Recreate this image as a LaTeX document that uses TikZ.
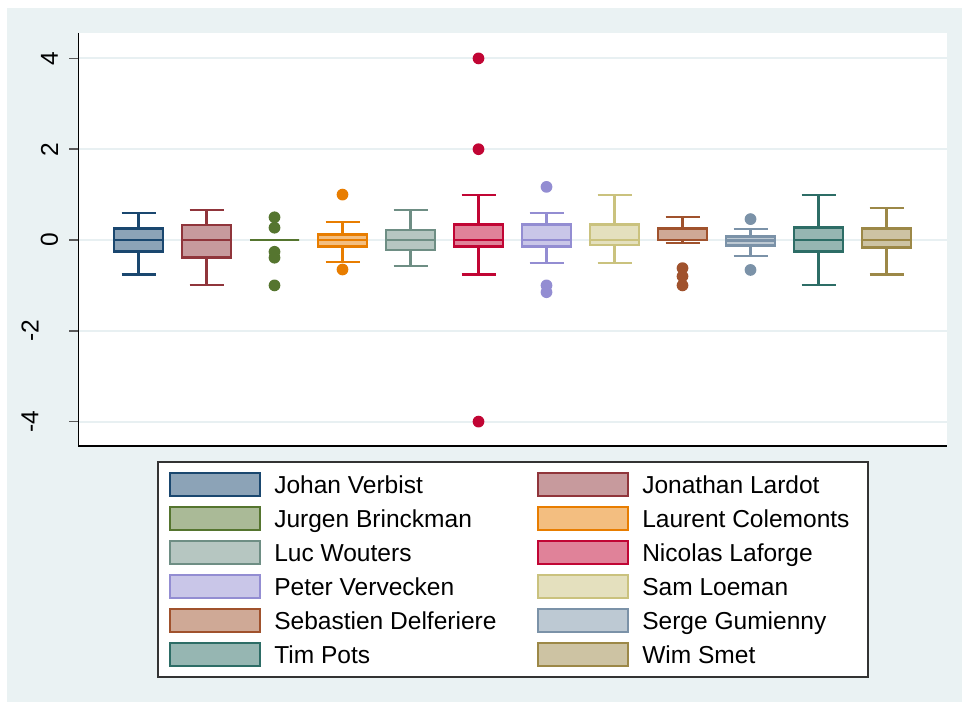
\documentclass[tikz,border=0pt]{standalone}
\usepackage{fontspec}
\setmainfont{Liberation Sans}
\usetikzlibrary{positioning}
\definecolor{bgcol}{RGB}{234,242,243}
\definecolor{gridcol}{RGB}{232,240,242}
\definecolor{cnavy}{RGB}{26,71,111}
\definecolor{cmaroon}{RGB}{144,53,59}
\definecolor{cforest}{RGB}{85,117,47}
\definecolor{corange}{RGB}{232,125,0}
\definecolor{cteal}{RGB}{110,142,132}
\definecolor{ccranberry}{RGB}{193,5,52}
\definecolor{clavender}{RGB}{147,141,210}
\definecolor{ckhaki}{RGB}{202,194,126}
\definecolor{csienna}{RGB}{160,82,45}
\definecolor{cblue}{RGB}{123,146,168}
\definecolor{cemerald}{RGB}{45,109,102}
\definecolor{cbrown}{RGB}{156,136,71}

\begin{document}
\begin{tikzpicture}[x=0.75pt,y=0.75pt,font=\fontsize{18.4}{22}\selectfont]
        \tikzstyle{grid}=[gridcol,line width=1.5pt]
        \tikzstyle{boxline}=[line width=2.2pt]
        \tikzstyle{whisker}=[line width=1.6pt]
        \tikzstyle{key}=[rectangle,line width=1.5pt,inner sep=0pt,outer sep=0pt,minimum width=67.5pt,minimum height=17.3pt]
        \tikzstyle{entry}=[inner sep=0pt,text height=13.2pt,text depth=0pt]

      \useasboundingbox (0,0) rectangle (962,702);
      \fill[bgcol] (7,0) rectangle (962,694);
      \fill[white] (78,256) rectangle (947,669);

      \begin{scope}[shift={(0,462)},y=34.05pt]
         \foreach \v/\lx in {4/49.5,2/49.5,0/49.5,-2/30,-4/30} {
            \draw[grid] (78,\v) -- (947,\v);
            \draw[black!65,line width=1.1pt] (69,\v) -- (78.5,\v);
            \node[rotate=90] (tick\v) at (\lx,\v) {\v};
         }

         \foreach \x/\c/\lo/\qa/\md/\qb/\hi in {
               138.5/cnavy/-0.76/-0.25/0/0.25/0.6,
               206.5/cmaroon/-1.0/-0.38/0/0.33/0.66,
               274.5/cforest/0/0/0/0/0,
               342.5/corange/-0.49/-0.15/0/0.12/0.4,
               410.5/cteal/-0.57/-0.22/0/0.22/0.66,
               478.5/ccranberry/-0.76/-0.15/0/0.34/1.0,
               546.5/clavender/-0.5/-0.15/0/0.34/0.6,
               614.5/ckhaki/-0.5/-0.11/0/0.34/1.0,
               682.5/csienna/-0.07/0/0/0.26/0.5,
               750.5/cblue/-0.36/-0.13/-0.02/0.08/0.25,
               818.5/cemerald/-1.0/-0.25/0/0.28/1.0,
               886.5/cbrown/-0.76/-0.16/0/0.25/0.71} {
            \draw[whisker,\c] (\x,\qb) -- (\x,\hi) (\x-17,\hi) -- (\x+17,\hi);
            \draw[whisker,\c] (\x,\qa) -- (\x,\lo) (\x-17,\lo) -- (\x+17,\lo);
            \filldraw[boxline,draw=\c,fill=\c!50] (\x-24.5,\qa) rectangle (\x+24.5,\qb);
            \draw[boxline,\c] (\x-24.5,\md) -- (\x+24.5,\md);
         }

         \foreach \x/\c/\v in {274.5/cforest/0.5,274.5/cforest/0.27,274.5/cforest/-0.26,
               274.5/cforest/-0.39,274.5/cforest/-1.0,342.5/corange/1.0,342.5/corange/-0.65,
               478.5/ccranberry/4,478.5/ccranberry/2,478.5/ccranberry/-4,
               546.5/clavender/1.17,546.5/clavender/-1.0,546.5/clavender/-1.15,
               682.5/csienna/-0.62,682.5/csienna/-0.8,682.5/csienna/-1.0,
               750.5/cblue/0.46,750.5/cblue/-0.66}
            \fill[\c] (\x,\v) circle[radius=4.4pt];
      \end{scope}

      \draw[black,line width=0.9pt] (78.5,669) -- (78.5,256) -- (947,256);

      \draw[black!80,line width=1.2pt,fill=white] (158,25) rectangle (868,240);
      \foreach \i/\c/\nm/\kx/\ky in {
            1/cnavy/Johan Verbist/215/217.5,
            2/cmaroon/Jonathan Lardot/583/217.5,
            3/cforest/Jurgen Brinckman/215/183.5,
            4/corange/Laurent Colemonts/583/183.5,
            5/cteal/Luc Wouters/215/149.5,
            6/ccranberry/Nicolas Laforge/583/149.5,
            7/clavender/Peter Vervecken/215/115.5,
            8/ckhaki/Sam Loeman/583/115.5,
            9/csienna/Sebastien Delferiere/215/81.5,
            10/cblue/Serge Gumienny/583/81.5,
            11/cemerald/Tim Pots/215/47.5,
            12/cbrown/Wim Smet/583/47.5} {
         \node[key,draw=\c,fill=\c!50] (key\i) at (\kx,\ky) {};
         \node[entry,right=10.5pt of key\i] (name\i) {\nm};
      }
    \end{tikzpicture}
\end{document}
